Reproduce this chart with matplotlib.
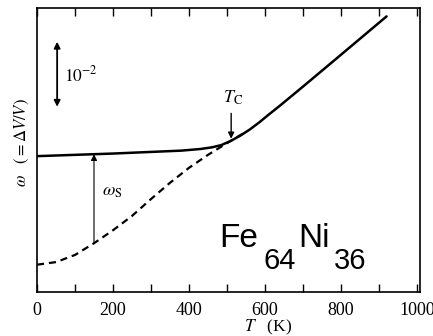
import matplotlib
matplotlib.use("Agg")
import matplotlib.pyplot as plt
from matplotlib.transforms import IdentityTransform
import numpy as np

plt.rcParams["mathtext.fontset"] = "stix"
plt.rcParams["font.family"] = ["Liberation Serif", "DejaVu Serif"]

# Relative volume change, in units of 1e-2 (arbitrary zero)
T_total = [0, 100, 200, 300, 380, 430, 460, 485, 510, 535, 560, 585, 610, 640, 700, 800, 920]
w_total = [2.09, 2.11, 2.13, 2.155, 2.175, 2.20, 2.225, 2.26, 2.325, 2.405, 2.50, 2.61,
           2.73, 2.87, 3.16, 3.65, 4.24]

T_lattice = [0, 50, 100, 150, 200, 250, 300, 350, 400, 450, 500, 540]
w_lattice = [0.42, 0.46, 0.57, 0.75, 0.95, 1.17, 1.43, 1.68, 1.91, 2.11, 2.29, 2.43]

x_ticks = [0, 200, 400, 600, 800, 1000]
x_minor = [100, 300, 500, 700, 900]

T_curie = 511
T_ws = 150

W, H = 433, 336
fig = plt.figure(figsize=(W / 100, H / 100), dpi=100)
ax = fig.add_axes([37 / W, 1 - 292 / H, (420 - 37) / W, (292 - 8) / H])

ax.plot(T_total, w_total, color="k", lw=1.8, solid_capstyle="round",
        solid_joinstyle="round")
ax.plot(T_lattice, w_lattice, color="k", lw=1.6, dashes=(3.2, 2.2))

ax.set_xlim(0, 1008)
ax.set_ylim(0, 284 / 65)

ax.set_xticks(x_ticks)
ax.set_xticklabels([str(v) for v in x_ticks])
ax.set_xticks(x_minor, minor=True)
ax.set_yticks([])
ax.tick_params(axis="x", which="both", direction="in", top=True, bottom=True,
               length=6, width=1.0, labelsize=13, pad=7)
for s in ax.spines.values():
    s.set_linewidth(1.2)

# scale bar for 1e-2
ax.annotate("", xy=(53, 3.85), xytext=(53, 2.85),
            arrowprops=dict(arrowstyle="<|-|>", color="k", lw=1.3,
                            mutation_scale=9, shrinkA=0, shrinkB=0))
ax.text(71, 3.33, r"$10^{-2}$", fontsize=12.5, va="center", ha="left")

# omega_S arrow between the two curves
w_lo = np.interp(T_ws, T_lattice, w_lattice)
w_hi = np.interp(T_ws, T_total, w_total)
ax.annotate("", xy=(T_ws, w_hi), xytext=(T_ws, w_lo),
            arrowprops=dict(arrowstyle="-|>", color="k", lw=0.8,
                            mutation_scale=9, shrinkA=0, shrinkB=0))
ax.text(172, 1.54, r"$\omega_{\rm S}$", fontsize=13, va="center", ha="left")

# Curie temperature marker
w_c = np.interp(T_curie, T_total, w_total)
ax.annotate("", xy=(T_curie, w_c + 0.03), xytext=(T_curie, w_c + 0.42),
            arrowprops=dict(arrowstyle="-|>", color="k", lw=1.0,
                            mutation_scale=9, shrinkA=0, shrinkB=0))
ax.text(T_curie + 5, 2.98, r"$T_{\rm C}$", fontsize=13, va="center", ha="center")

# alloy name with large subscripts
fig.canvas.draw()
renderer = fig.canvas.get_renderer()
x_px, base_main, base_sub = 219, H - 247, H - 269
parts = [("Fe", 24, base_main, 6), ("64", 21, base_sub, 2),
         ("Ni", 24, base_main, 4), ("36", 21, base_sub, 0)]
for txt, size, base, gap in parts:
    t = fig.text(x_px, base, txt, transform=IdentityTransform(),
                 fontsize=size, family="Liberation Sans", va="baseline", ha="left")
    bb = t.get_window_extent(renderer)
    x_px = bb.x1 + gap

# axis titles
fig.text(22 / W, 1 - 143 / H, r"$\omega\ \ \ (=\Delta V/V)$", rotation=90,
         fontsize=12, ha="center", va="center")
fig.text(268 / W, 1 - 331 / H, r"$T$   (K)", fontsize=12.5, ha="center", va="baseline")

fig.savefig("out.png", dpi=100)
